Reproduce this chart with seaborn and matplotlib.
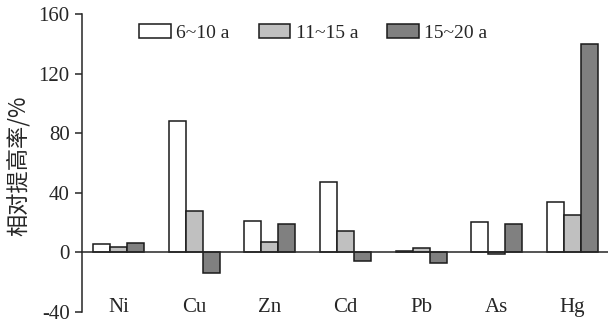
import matplotlib
matplotlib.use("Agg")
import matplotlib.pyplot as plt
import pandas as pd
import seaborn as sns

# ---------------------------------------------------------
# Data
# ---------------------------------------------------------
elements = ["Ni", "Cu", "Zn", "Cd", "Pb", "As", "Hg"]
periods = ["6~10 a", "11~15 a", "15~20 a"]
rate_6_10 = [5.5, 88, 21, 47, 1, 20, 33.5]
rate_11_15 = [3.5, 28, 7, 14, 2.5, -1.5, 25]
rate_15_20 = [6.5, -14, 19, -6, -7, 19, 140]
y_ticks = [-40, 0, 40, 80, 120, 160]

colors = ["#ffffff", "#c0c0c0", "#808080"]

df = pd.DataFrame({
    "element": elements * 3,
    "period": [periods[0]] * 7 + [periods[1]] * 7 + [periods[2]] * 7,
    "rate": rate_6_10 + rate_11_15 + rate_15_20,
})

sns.set_style("white")
plt.rcParams["font.family"] = ["Liberation Serif", "DejaVu Serif"]

fig = plt.figure(figsize=(6.08, 3.24), dpi=100)
ax = fig.add_axes([0.135, 0.038, 0.865, 0.918])

sns.barplot(data=df, x="element", y="rate", hue="period",
            order=elements, hue_order=periods, palette=colors,
            width=0.674, edgecolor="#1a1a1a", linewidth=1.1,
            saturation=1, ax=ax)

ax.set_xlim(-0.48, 6.47)
ax.set_ylim(-40, 160)
ax.set_yticks(y_ticks)
ax.set_yticklabels([str(t) for t in y_ticks], fontsize=15)

# zero line acts as the x axis, labels sit well below it
ax.spines["bottom"].set_position(("data", 0))
ax.spines["bottom"].set_linewidth(1.1)
ax.spines["left"].set_linewidth(1.1)
ax.spines["top"].set_visible(False)
ax.spines["right"].set_visible(False)
ax.tick_params(axis="x", length=0, pad=33, labelsize=15)
ax.tick_params(axis="y", direction="out", length=5, width=1.1, left=True, pad=4)
ax.set_xlabel("")
ax.set_ylabel("相对提高率/%", fontsize=16, family=["Noto Sans CJK SC", "DejaVu Sans"])
ax.yaxis.set_label_coords(-0.1, 0.49)

handles, labels = ax.get_legend_handles_labels()
ax.legend(handles, labels, loc="upper center", bbox_to_anchor=(0.44, 1.025),
          ncol=3, frameon=False, fontsize=14, handlelength=1.6, handleheight=0.7,
          columnspacing=1.5, handletextpad=0.3)

fig.savefig("out.png", dpi=100)
